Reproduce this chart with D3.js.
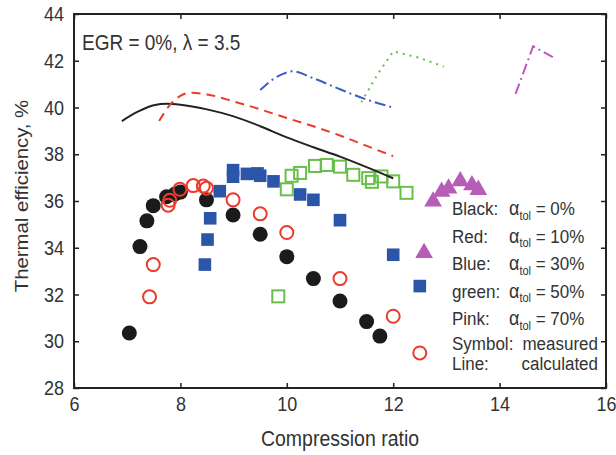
<!DOCTYPE html>
<html>
<head>
<meta charset="utf-8">
<script src="https://cdn.jsdelivr.net/npm/d3@7"></script>
<style>
body{margin:0;background:#fff;}
svg{display:block;font-family:"Liberation Sans",Arial,sans-serif;}
</style>
</head>
<body>
<svg id="svg" width="616" height="455"></svg>
<script>
// measured points, [compression ratio, efficiency %]
var meas0 = [[7.04,30.35],[7.24,34.05],[7.37,35.15],[7.49,35.8],[7.74,36.18],[7.9,36.3],[8.0,36.38],[8.49,36.05],[8.99,35.4],[9.5,34.58],[10.0,33.62],[10.5,32.68],[11.0,31.72],[11.5,30.84],[11.75,30.22]];
var meas10 = [[7.42,31.9],[7.49,33.28],[7.77,35.82],[7.8,36.03],[7.99,36.5],[8.24,36.66],[8.43,36.64],[8.49,36.55],[8.99,36.05],[9.5,35.45],[10.0,34.65],[11.0,32.68],[12.0,31.07],[12.5,29.5]];
var meas30 = [[8.46,33.28],[8.51,34.35],[8.56,35.26],[8.74,36.42],[8.99,37.32],[8.99,37.04],[9.25,37.16],[9.45,37.18],[9.5,37.08],[9.75,36.84],[10.25,36.28],[10.5,36.05],[11.0,35.18],[12.0,33.7],[12.5,32.36]];
var meas50 = [[9.84,31.92],[10.0,36.5],[10.09,37.08],[10.25,37.2],[10.53,37.5],[10.75,37.54],[11.0,37.47],[11.25,37.12],[11.53,36.98],[11.6,36.82],[11.78,37.05],[12.0,36.84],[12.25,36.35]];
var meas70 = [[12.58,33.78],[12.75,35.98],[12.91,36.4],[13.04,36.54],[13.26,36.85],[13.48,36.68],[13.6,36.48]];

// calculated lines
var calc0 = [[6.9,39.42],[7.2,39.82],[7.5,40.1],[7.75,40.16],[8.0,40.12],[8.5,39.92],[9.0,39.62],[9.5,39.2],[10.0,38.72],[10.5,38.3],[11.0,37.9],[11.5,37.45],[12.0,36.97]];
var calc10 = [[7.6,39.42],[7.8,40.1],[8.0,40.5],[8.2,40.63],[8.5,40.56],[9.0,40.26],[9.5,39.92],[10.0,39.55],[10.6,39.12],[11.0,38.8],[11.6,38.27],[12.0,37.92]];
var calc30 = [[9.5,40.75],[9.75,41.22],[10.0,41.5],[10.1,41.55],[10.5,41.25],[11.0,40.78],[11.5,40.34],[12.0,40.0]];
var calc50 = [[11.4,40.22],[11.7,41.4],[12.0,42.4],[12.5,42.12],[12.95,41.75]];
var calc70 = [[14.3,40.58],[14.63,42.62],[15.0,42.15]];

var xTicks = [6,8,10,12,14,16];
var yTicks = [28,30,32,34,36,38,40,42,44];

var legendRows = [["Black:","0%"],["Red:","10%"],["Blue:","30%"],["green:","50%"],["Pink:","70%"]];

var svg = d3.select("#svg");
var x = d3.scaleLinear().domain([6,16]).range([74,606]);
var y = d3.scaleLinear().domain([28,44]).range([388,14]);
var txt = "#333";
var stretch = "scale(1,1.13)";   // text in the original is a bit tall

function styleAxis(g){
  g.select(".domain").remove();
  g.selectAll(".tick line").attr("stroke","#222").attr("stroke-width",1.5);
  g.selectAll("text").attr("fill",txt).attr("transform",stretch)
    .style("font-size","18px").style("font-family","Liberation Sans, Arial, sans-serif");
}

// text placed at x,y with the same stretch
function label(parent,px,py,s,size,anchor){
  return parent.append("text").attr("transform","translate(" + px + "," + py + ") " + stretch)
    .attr("text-anchor",anchor || "start").attr("fill",txt).style("font-size",size).text(s);
}

svg.append("g").attr("transform","translate(0,388)")
  .call(d3.axisBottom(x).tickValues(xTicks).tickSize(-5).tickPadding(8)).call(styleAxis);
svg.append("g").attr("transform","translate(0,14)")
  .call(d3.axisTop(x).tickValues(xTicks).tickSize(-5).tickFormat("")).call(styleAxis);
svg.append("g").attr("transform","translate(74,0)")
  .call(d3.axisLeft(y).tickValues(yTicks).tickSize(-5).tickPadding(10)).call(styleAxis);
svg.append("g").attr("transform","translate(606,0)")
  .call(d3.axisRight(y).tickValues(yTicks).tickSize(-5).tickFormat("")).call(styleAxis);

svg.append("rect").attr("x",74).attr("y",14).attr("width",532).attr("height",374)
  .attr("fill","none").attr("stroke","#222").attr("stroke-width",2);

// symbols
svg.selectAll(".m0").data(meas0).enter().append("circle")
  .attr("cx",d => x(d[0])).attr("cy",d => y(d[1])).attr("r",7.5).attr("fill","#1b1b1b");
svg.selectAll(".m30").data(meas30).enter().append("rect")
  .attr("x",d => x(d[0])-6.3).attr("y",d => y(d[1])-6.3).attr("width",12.6).attr("height",12.6).attr("fill","#2a55a8");
svg.selectAll(".m50").data(meas50).enter().append("rect")
  .attr("x",d => x(d[0])-6).attr("y",d => y(d[1])-6).attr("width",12).attr("height",12)
  .attr("fill","none").attr("stroke","#68c04a").attr("stroke-width",2);
svg.selectAll(".m10").data(meas10).enter().append("circle")
  .attr("cx",d => x(d[0])).attr("cy",d => y(d[1])).attr("r",6.5)
  .attr("fill","none").attr("stroke","#ec3b2c").attr("stroke-width",2);
svg.selectAll(".m70").data(meas70).enter().append("path")
  .attr("transform",d => "translate(" + x(d[0]) + "," + y(d[1]) + ")")
  .attr("d",d3.symbol().type(d3.symbolTriangle).size(135)).attr("fill","#b65db8");

// calculated lines
var smooth = d3.line().x(d => x(d[0])).y(d => y(d[1])).curve(d3.curveMonotoneX);
var straight = d3.line().x(d => x(d[0])).y(d => y(d[1]));
svg.append("path").attr("d",smooth(calc0)).attr("fill","none").attr("stroke","#222").attr("stroke-width",2);
svg.append("path").attr("d",smooth(calc10)).attr("fill","none").attr("stroke","#ec3b2c").attr("stroke-width",2).attr("stroke-dasharray","9,6");
svg.append("path").attr("d",smooth(calc30)).attr("fill","none").attr("stroke","#3b5fc4").attr("stroke-width",2).attr("stroke-dasharray","11,4,2,4");
svg.append("path").attr("d",straight(calc50)).attr("fill","none").attr("stroke","#5cc33a").attr("stroke-width",2).attr("stroke-dasharray","2,5");
svg.append("path").attr("d",straight(calc70)).attr("fill","none").attr("stroke","#c256c0").attr("stroke-width",2).attr("stroke-dasharray","11,4,2,4");

// text
label(svg,82,50,"EGR = 0%, \u03bb = 3.5","19px");
label(svg,340,446,"Compression ratio","19.5px","middle");
svg.append("text").attr("transform","translate(28,196) rotate(-90) scale(1.13,1)").attr("text-anchor","middle")
  .attr("fill",txt).style("font-size","18px").text("Thermal efficiency, %");

var leg = svg.append("g").style("font-size","17px").attr("fill",txt);
legendRows.forEach(function(r,i){
  var yy = 215 + i*27.5;
  label(leg,452,yy,r[0],"17px");
  var t = leg.append("text").attr("transform","translate(509," + yy + ") " + stretch).attr("fill",txt);
  t.append("tspan").style("font-size","18px").text("\u03b1");
  t.append("tspan").attr("dy",4).style("font-size","11px").text("tol");
  t.append("tspan").attr("dy",-4).text(" = " + r[1]);
});
label(leg,452,350,"Symbol:","17px");
label(leg,598,350,"measured","17px","end");
label(leg,452,370,"Line:","17px");
label(leg,598,370,"calculated","17px","end");
</script>
</body>
</html>
